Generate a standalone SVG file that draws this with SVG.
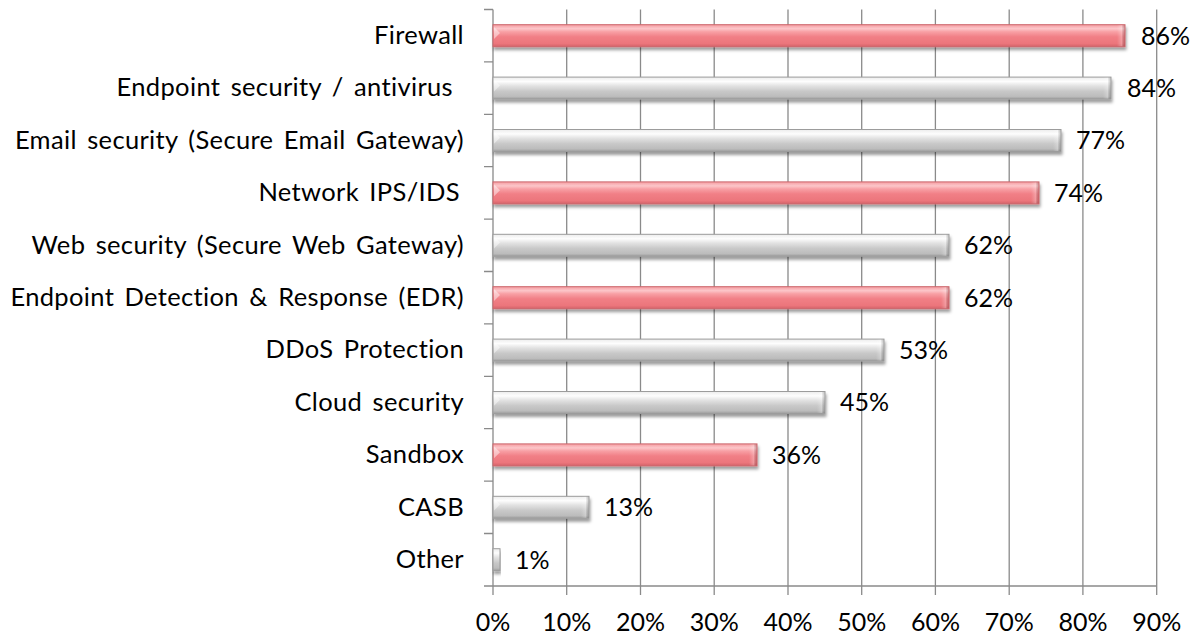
<svg xmlns="http://www.w3.org/2000/svg" width="1194" height="635" viewBox="0 0 1194 635">
  <defs>
    <style>
      .grid { stroke: #8a8a8a; stroke-width: 1.3; fill: none; }
      .cat { font-family: Lato, "Liberation Sans", Arial, sans-serif; font-size: 25.5px; letter-spacing: 0.35px; word-spacing: 3.5px; fill: #000; text-anchor: end; }
      .val { font-family: Lato, "Liberation Sans", Arial, sans-serif; font-size: 25px; fill: #000; }
      .tick { font-family: Lato, "Liberation Sans", Arial, sans-serif; font-size: 25px; fill: #000; text-anchor: middle; }
      .red { fill: url(#gRed); stroke: #cc666c; stroke-width: 1; filter: url(#shadow); }
      .gray { fill: url(#gGray); stroke: #9c9c9c; stroke-width: 1; filter: url(#shadow); }
      .capR { fill: url(#gEnd); }
      .capL { fill: #ffffff; opacity: 0.45; }
    </style>
    <linearGradient id="gRed" x1="0" y1="0" x2="0" y2="1">
      <stop offset="0" stop-color="#f59ca1"/>
      <stop offset="0.18" stop-color="#fcc6c9"/>
      <stop offset="0.32" stop-color="#f8a0a5"/>
      <stop offset="0.55" stop-color="#f17f86"/>
      <stop offset="0.85" stop-color="#ec767c"/>
      <stop offset="1" stop-color="#d4636a"/>
    </linearGradient>
    <linearGradient id="gGray" x1="0" y1="0" x2="0" y2="1">
      <stop offset="0" stop-color="#ececec"/>
      <stop offset="0.2" stop-color="#fdfdfd"/>
      <stop offset="0.4" stop-color="#e2e2e2"/>
      <stop offset="0.65" stop-color="#c8c8c8"/>
      <stop offset="0.88" stop-color="#bcbcbc"/>
      <stop offset="1" stop-color="#9c9c9c"/>
    </linearGradient>
    <linearGradient id="gEnd" x1="0" y1="0" x2="1" y2="0">
      <stop offset="0" stop-color="#ffffff" stop-opacity="0"/>
      <stop offset="0.6" stop-color="#ffffff" stop-opacity="0.25"/>
      <stop offset="1" stop-color="#000000" stop-opacity="0.18"/>
    </linearGradient>
    <filter id="shadow" x="-5%" y="-30%" width="110%" height="170%">
      <feDropShadow dx="1" dy="3" stdDeviation="1.6" flood-color="#000" flood-opacity="0.38"/>
    </filter>
  </defs>

  <rect width="1194" height="635" fill="#ffffff"/>

  <!-- gridlines, axes and tick marks -->
  <g id="axes" class="grid">
    <path d="M566.7 9.5V595 M640.5 9.5V595 M714.2 9.5V595 M788 9.5V595 M861.7 9.5V595 M935.4 9.5V595 M1009.2 9.5V595 M1082.9 9.5V595 M1156.7 9.5V595"/>
    <path d="M493 9.5V595 M484 586H1156.7"/>
    <path d="M484 9.5H493 M484 61.9H493 M484 114.3H493 M484 166.7H493 M484 219.1H493 M484 271.5H493 M484 323.9H493 M484 376.3H493 M484 428.7H493 M484 481.1H493 M484 533.5H493"/>
  </g>

  <!-- x-axis labels -->
  <g id="x-labels" class="tick">
    <text x="493" y="631">0%</text>
    <text x="566.7" y="631">10%</text>
    <text x="640.5" y="631">20%</text>
    <text x="714.2" y="631">30%</text>
    <text x="788" y="631">40%</text>
    <text x="861.7" y="631">50%</text>
    <text x="935.4" y="631">60%</text>
    <text x="1009.2" y="631">70%</text>
    <text x="1082.9" y="631">80%</text>
    <text x="1156.7" y="631">90%</text>
  </g>

  <!-- one group per category: label, bar, value -->
  <g id="firewall">
    <text class="cat" x="464" y="44">Firewall</text>
    <rect class="red" x="493" y="24.7" width="632" height="22"/>
    <rect class="capR" x="1117" y="25.2" width="7.5" height="21"/>
    <polygon class="capL" points="494,27 500,33 494,39"/>
    <text class="val" x="1141" y="44.5">86%</text>
  </g>
  <g id="endpoint-security">
    <text class="cat" x="453" y="96.4">Endpoint security / antivirus</text>
    <rect class="gray" x="493" y="77.1" width="618" height="22"/>
    <rect class="capR" x="1103" y="77.6" width="7.5" height="21"/>
    <polygon class="capL" points="494,79.4 500,85.4 494,91.4"/>
    <text class="val" x="1127" y="96.9">84%</text>
  </g>
  <g id="email-security">
    <text class="cat" x="464" y="148.8">Email security (Secure Email Gateway)</text>
    <rect class="gray" x="493" y="129.5" width="568" height="22"/>
    <rect class="capR" x="1053" y="130" width="7.5" height="21"/>
    <polygon class="capL" points="494,131.8 500,137.8 494,143.8"/>
    <text class="val" x="1076" y="149.3">77%</text>
  </g>
  <g id="network-ips">
    <text class="cat" x="460" y="201.2">Network IPS/IDS</text>
    <rect class="red" x="493" y="181.9" width="546" height="22"/>
    <rect class="capR" x="1031" y="182.4" width="7.5" height="21"/>
    <polygon class="capL" points="494,184.2 500,190.2 494,196.2"/>
    <text class="val" x="1054" y="201.7">74%</text>
  </g>
  <g id="web-security">
    <text class="cat" x="464" y="253.6">Web security (Secure Web Gateway)</text>
    <rect class="gray" x="493" y="234.3" width="456" height="22"/>
    <rect class="capR" x="941" y="234.8" width="7.5" height="21"/>
    <polygon class="capL" points="494,236.6 500,242.6 494,248.6"/>
    <text class="val" x="964" y="254.1">62%</text>
  </g>
  <g id="edr">
    <text class="cat" x="464" y="306">Endpoint Detection &amp; Response (EDR)</text>
    <rect class="red" x="493" y="286.7" width="456" height="22"/>
    <rect class="capR" x="941" y="287.2" width="7.5" height="21"/>
    <polygon class="capL" points="494,289 500,295 494,301"/>
    <text class="val" x="964" y="306.5">62%</text>
  </g>
  <g id="ddos">
    <text class="cat" x="464" y="358.4">DDoS Protection</text>
    <rect class="gray" x="493" y="339.1" width="391" height="22"/>
    <rect class="capR" x="876" y="339.6" width="7.5" height="21"/>
    <polygon class="capL" points="494,341.4 500,347.4 494,353.4"/>
    <text class="val" x="899" y="358.9">53%</text>
  </g>
  <g id="cloud-security">
    <text class="cat" x="464" y="410.8">Cloud security</text>
    <rect class="gray" x="493" y="391.5" width="332" height="22"/>
    <rect class="capR" x="817" y="392" width="7.5" height="21"/>
    <polygon class="capL" points="494,393.8 500,399.8 494,405.8"/>
    <text class="val" x="840" y="411.3">45%</text>
  </g>
  <g id="sandbox">
    <text class="cat" x="464" y="463.2">Sandbox</text>
    <rect class="red" x="493" y="443.9" width="264" height="22"/>
    <rect class="capR" x="749" y="444.4" width="7.5" height="21"/>
    <polygon class="capL" points="494,446.2 500,452.2 494,458.2"/>
    <text class="val" x="772" y="463.7">36%</text>
  </g>
  <g id="casb">
    <text class="cat" x="464" y="515.6">CASB</text>
    <rect class="gray" x="493" y="496.3" width="96" height="22"/>
    <rect class="capR" x="581" y="496.8" width="7.5" height="21"/>
    <polygon class="capL" points="494,498.6 500,504.6 494,510.6"/>
    <text class="val" x="604" y="516.1">13%</text>
  </g>
  <g id="other">
    <text class="cat" x="464" y="568">Other</text>
    <rect class="gray" x="493" y="548.7" width="7" height="22"/>
    <text class="val" x="515" y="568.5">1%</text>
  </g>
</svg>
